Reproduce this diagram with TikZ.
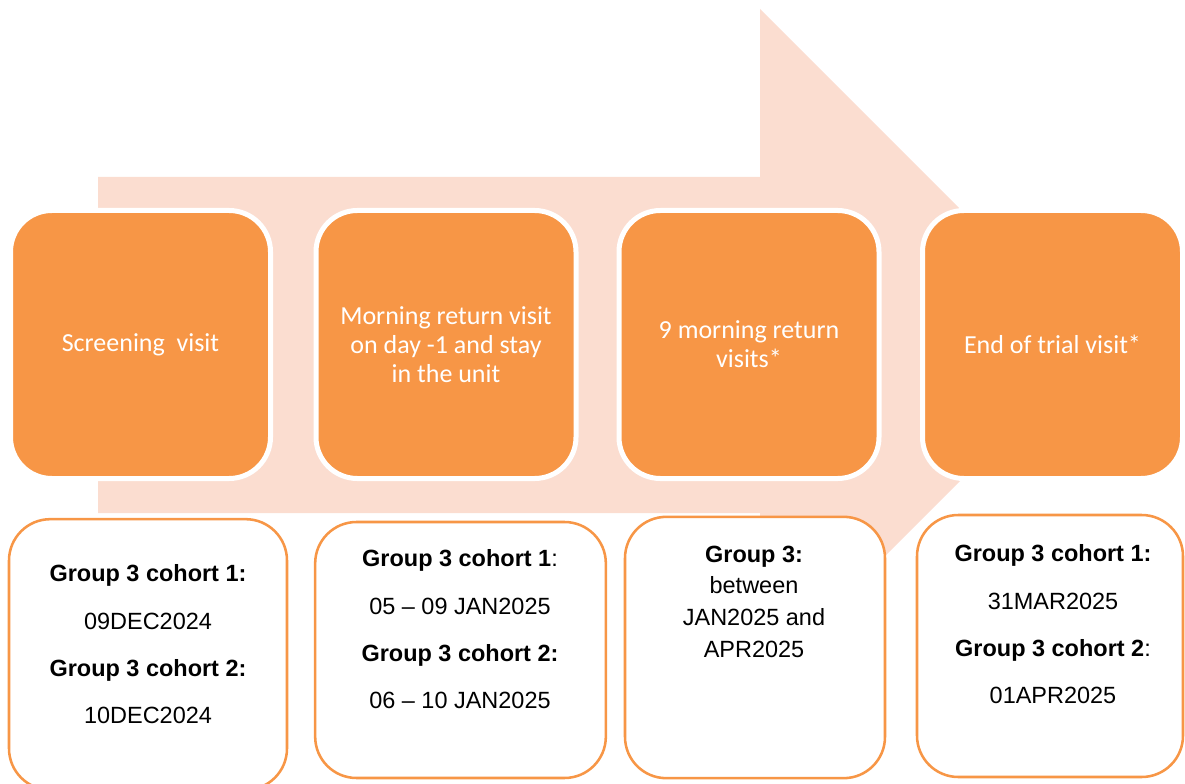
\documentclass[tikz,border=0pt]{standalone}
\usepackage{fontspec}
\setmainfont{Liberation Sans}
\newfontfamily\calibri{Carlito}
\definecolor{arrowpink}{HTML}{FBDDD0}
\definecolor{boxorange}{HTML}{F79646}
\begin{document}
\begin{tikzpicture}[x=0.75pt,y=-0.75pt,
  stage/.style={draw=white, line width=3.75pt, fill=boxorange, rounded corners=31pt,
    inner sep=0pt, minimum width=195pt, minimum height=201pt, text=white, align=center,
    font=\calibri\fontsize{19.5}{21.75}\selectfont},
  datebox/.style={draw=boxorange, line width=1.9pt, fill=white, rounded corners=31pt,
    inner sep=0pt},
  datetext/.style={inner sep=0pt, anchor=north, align=center, text=black,
    font=\fontsize{17.6}{35.5}\selectfont},
  datetextb/.style={datetext, font=\fontsize{17.6}{23.8}\selectfont}
]
\useasboundingbox (0,0) rectangle (1185,784);
% big background arrow
\fill[arrowpink] (98,177) -- (760,177) -- (760,9) -- (1096,345) -- (760,681)
  -- (760,513) -- (98,513) -- cycle;
% stage boxes
\node[stage] (s1) at (140.5,344.5) {Screening~~visit};
\node[stage] (s2) at (446,344.5) {Morning return visit\\on day -1 and stay\\in the unit};
\node[stage] (s3) at (749,344.5) {9 morning return\\visits*};
\node[stage] (s4) at (1052.5,344.5) {End of trial visit*};
% date boxes
\node[datebox, minimum width=208.5pt, minimum height=203pt] (d1) at (148,654.5) {};
\node[datebox, minimum width=218pt, minimum height=192pt] (d2) at (460.5,650) {};
\node[datebox, minimum width=195pt, minimum height=196pt] (d3) at (755,647.5) {};
\node[datebox, minimum width=199.5pt, minimum height=196.5pt] (d4) at (1050,646) {};
% date texts
\node[datetext] (t1) at (148,564.5) {\textbf{Group 3 cohort 1:}\\09DEC2024\\\textbf{Group 3 cohort 2:}\\10DEC2024};
\node[datetext] (t2) at (460,549.5) {\textbf{Group 3 cohort 1}:\\05 -- 09 JAN2025\\\textbf{Group 3 cohort 2:}\\06 -- 10 JAN2025};
\node[datetextb] (t3) at (754,545.5) {\textbf{Group 3:}\\between\\JAN2025 and\\APR2025};
\node[datetext] (t4) at (1053,544.5) {\textbf{Group 3 cohort 1:}\\31MAR2025\\\textbf{Group 3 cohort 2}:\\01APR2025};
\end{tikzpicture}
\end{document}
